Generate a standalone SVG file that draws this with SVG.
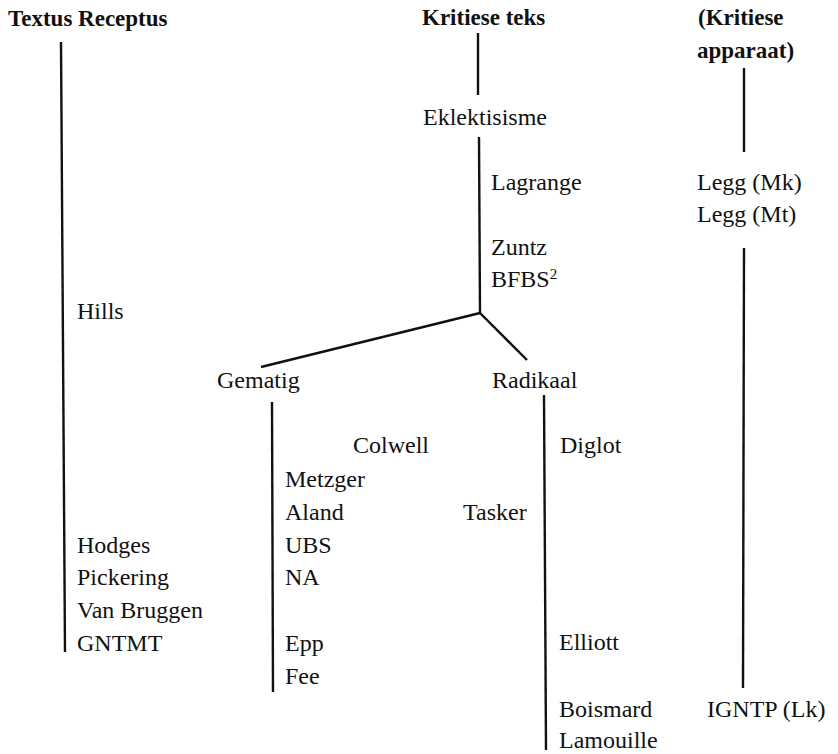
<svg xmlns="http://www.w3.org/2000/svg" width="838" height="754" viewBox="0 0 838 754">
  <style>
    text { fill: #111; }
    .hd { font-size: 23px; font-weight: bold; }
    .nm { font-size: 24px; }
    .sup { font-size: 15px; }
    .ln { stroke: #111; stroke-width: 2.4; fill: none; stroke-linecap: butt; }
  </style>
  <rect width="838" height="754" fill="#fff"/>

  <!-- connectors -->
  <g id="connectors">
    <line class="ln" x1="61" y1="42" x2="65" y2="652"/>
    <line class="ln" x1="478" y1="33" x2="478" y2="95"/>
    <line class="ln" x1="479" y1="137" x2="480" y2="313"/>
    <line class="ln" x1="480" y1="313" x2="261" y2="367"/>
    <line class="ln" x1="480" y1="313" x2="527" y2="360"/>
    <line class="ln" x1="272" y1="402" x2="273" y2="692"/>
    <line class="ln" x1="544" y1="395" x2="546" y2="750"/>
    <line class="ln" x1="744" y1="68" x2="744" y2="152"/>
    <line class="ln" x1="744" y1="248" x2="743" y2="688"/>
  </g>

  <g font-family="Liberation Serif, Times New Roman, serif">
  <!-- column heads -->
  <g id="textus-receptus"><text class="hd" x="8" y="26">Textus Receptus</text></g>
  <g id="kritiese-teks"><text class="hd" x="422" y="25">Kritiese teks</text></g>
  <g id="kritiese-apparaat">
    <text class="hd" x="698" y="25">(Kritiese</text>
    <text class="hd" x="697" y="58">apparaat)</text>
  </g>

  <!-- critical text branch -->
  <g id="eklektisisme"><text class="nm" x="423" y="125">Eklektisisme</text></g>
  <g id="lagrange"><text class="nm" x="491" y="190">Lagrange</text></g>
  <g id="zuntz"><text class="nm" x="491" y="255">Zuntz</text></g>
  <g id="bfbs2"><text class="nm" x="491" y="287">BFBS<tspan class="sup" dy="-8">2</tspan></text></g>
  <g id="gematig"><text class="nm" x="217" y="388">Gematig</text></g>
  <g id="radikaal"><text class="nm" x="492" y="388">Radikaal</text></g>

  <!-- apparatus column -->
  <g id="legg-mk"><text class="nm" x="697" y="190">Legg (Mk)</text></g>
  <g id="legg-mt"><text class="nm" x="697" y="222">Legg (Mt)</text></g>
  <g id="igntp-lk"><text class="nm" x="707" y="717">IGNTP (Lk)</text></g>

  <!-- Textus Receptus column -->
  <g id="hills"><text class="nm" x="77" y="319">Hills</text></g>
  <g id="hodges"><text class="nm" x="77" y="553">Hodges</text></g>
  <g id="pickering"><text class="nm" x="77" y="585">Pickering</text></g>
  <g id="van-bruggen"><text class="nm" x="77" y="618">Van Bruggen</text></g>
  <g id="gntmt"><text class="nm" x="77" y="651">GNTMT</text></g>

  <!-- Gematig column -->
  <g id="colwell"><text class="nm" x="353" y="453">Colwell</text></g>
  <g id="metzger"><text class="nm" x="285" y="487">Metzger</text></g>
  <g id="aland"><text class="nm" x="285" y="520">Aland</text></g>
  <g id="ubs"><text class="nm" x="285" y="553">UBS</text></g>
  <g id="na"><text class="nm" x="285" y="585">NA</text></g>
  <g id="epp"><text class="nm" x="285" y="651">Epp</text></g>
  <g id="fee"><text class="nm" x="285" y="684">Fee</text></g>
  <g id="tasker"><text class="nm" x="463" y="520">Tasker</text></g>

  <!-- Radikaal column -->
  <g id="diglot"><text class="nm" x="560" y="453">Diglot</text></g>
  <g id="elliott"><text class="nm" x="559" y="650">Elliott</text></g>
  <g id="boismard"><text class="nm" x="559" y="717">Boismard</text></g>
  <g id="lamouille"><text class="nm" x="559" y="748">Lamouille</text></g>
  </g>
</svg>
